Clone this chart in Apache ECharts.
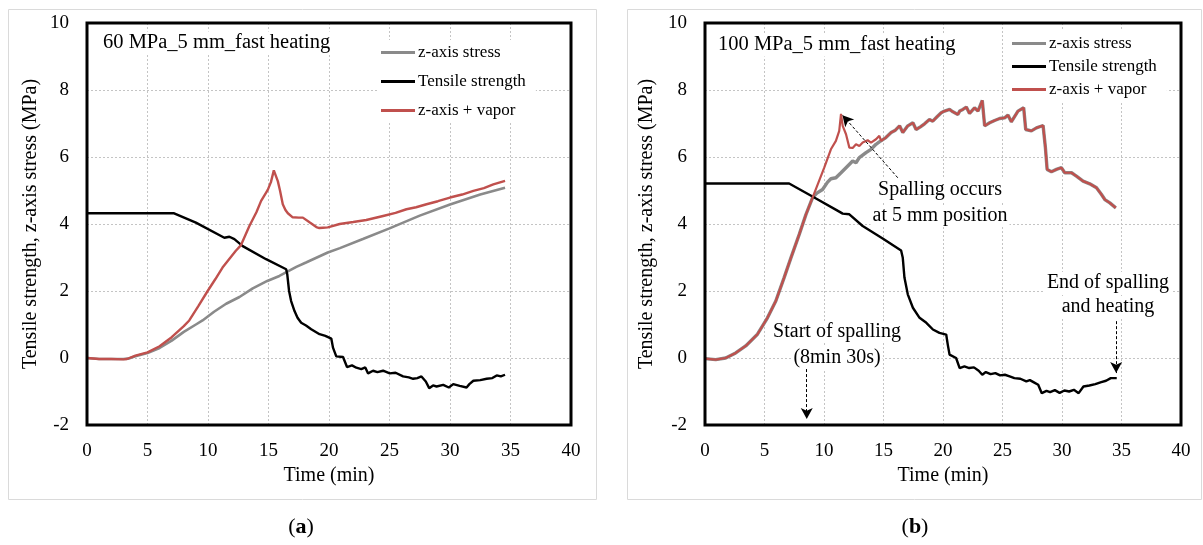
<!DOCTYPE html>
<html>
<head>
<meta charset="utf-8">
<script src="https://cdn.jsdelivr.net/npm/echarts@6/dist/echarts.min.js"></script>
<style>
html,body{margin:0;padding:0;background:#fff;}
#c{width:1203px;height:545px;}
</style>
</head>
<body>
<div id="c"></div>
<script>
// ---------- Data ----------
var seriesNames = ['z-axis stress', 'Tensile strength', 'z-axis + vapor'];
var xTicks = [0, 5, 10, 15, 20, 25, 30, 35, 40];
var yTicks = [-2, 0, 2, 4, 6, 8, 10];

// Panel (a): 60 MPa
var aStressT = [0, 1, 2, 3, 3.4, 4, 5, 6, 7, 8, 9, 9.55, 10.5, 11.5, 12.6, 13.7, 14.9, 15.9, 17.3, 18.1, 19.9, 20.9, 22.8, 25, 27.5, 30, 32.5, 34.55];
var aStressV = [0, -0.03, -0.03, -0.03, -0.02, 0.05, 0.15, 0.3, 0.52, 0.78, 1.0, 1.12, 1.38, 1.62, 1.82, 2.08, 2.3, 2.45, 2.72, 2.85, 3.15, 3.28, 3.55, 3.87, 4.25, 4.58, 4.88, 5.08];

var aTensileT = [0, 7.2, 9.0, 11.35, 11.5, 11.77, 12.18, 12.87, 14.8, 16.46, 16.55, 16.7, 16.87, 17.15, 17.4, 17.7, 18.1, 18.53, 19.22, 19.7, 20.19, 20.33, 20.6, 21.16, 21.49, 21.9, 22.26, 22.67, 23.0, 23.23, 23.64, 24.0, 24.47, 25.02, 25.5, 26.12, 26.6, 26.95, 27.3, 27.64, 28.0, 28.28, 28.6, 28.89, 29.44, 29.9, 30.27, 30.8, 31.37, 31.6, 31.93, 32.5, 33.03, 33.5, 33.86, 34.2, 34.55];
var aTensileV = [4.32, 4.32, 4.04, 3.59, 3.58, 3.62, 3.55, 3.34, 2.95, 2.65, 2.5, 2.0, 1.7, 1.4, 1.2, 1.05, 0.97, 0.86, 0.71, 0.66, 0.58, 0.31, 0.05, 0.03, -0.27, -0.22, -0.29, -0.33, -0.28, -0.46, -0.38, -0.42, -0.38, -0.46, -0.44, -0.55, -0.58, -0.62, -0.6, -0.55, -0.7, -0.9, -0.82, -0.85, -0.8, -0.88, -0.78, -0.83, -0.88, -0.78, -0.68, -0.66, -0.62, -0.6, -0.52, -0.55, -0.5];

var aVaporT = [0, 1, 2, 3, 3.3, 4, 5, 6, 7, 8, 8.45, 9.2, 9.97, 10.6, 11.2, 12.3, 12.73, 13.42, 14.0, 14.39, 14.94, 15.2, 15.44, 15.6, 15.77, 15.95, 16.18, 16.4, 16.6, 17.0, 17.5, 17.84, 18.39, 18.95, 19.2, 19.5, 19.9, 20.88, 22, 23.08, 24.47, 25.5, 26.4, 27.2, 28.06, 29, 30, 31, 31.93, 32.8, 33.58, 34.55];
var aVaporV = [0, -0.03, -0.03, -0.04, -0.03, 0.07, 0.17, 0.35, 0.62, 0.95, 1.12, 1.55, 2.0, 2.35, 2.7, 3.2, 3.37, 3.94, 4.35, 4.69, 5.02, 5.25, 5.6, 5.62, 5.28, 5.0, 4.59, 4.42, 4.32, 4.2, 4.19, 4.19, 4.05, 3.91, 3.88, 3.89, 3.9, 4.0, 4.06, 4.12, 4.24, 4.33, 4.44, 4.5, 4.59, 4.68, 4.79, 4.88, 4.99, 5.07, 5.18, 5.29];

// Panel (b): 100 MPa
var bRiseT = [0, 0.9, 1.74, 2.58, 3.42, 4.41, 5.25, 5.95, 6.65, 7.22, 7.92, 8.48, 9.04];
var bRiseV = [-0.02, -0.05, 0, 0.15, 0.36, 0.71, 1.2, 1.7, 2.4, 2.99, 3.69, 4.28, 4.79];

var bStressMidT = [9.4, 9.88, 10.3, 10.58, 11.0, 11.43, 11.85, 12.41, 12.69, 12.97, 13.53, 13.95, 14.37, 14.65];
var bStressMidV = [4.92, 5.03, 5.25, 5.35, 5.38, 5.53, 5.68, 5.88, 5.83, 5.98, 6.13, 6.23, 6.38, 6.45];

var bVaporMidT = [10.02, 10.58, 11.0, 11.28, 11.43, 11.57, 11.85, 12.13, 12.41, 12.69, 12.97, 13.25, 13.67, 13.95, 14.37, 14.65];
var bVaporMidV = [5.68, 6.23, 6.48, 6.78, 7.29, 6.93, 6.68, 6.28, 6.27, 6.38, 6.33, 6.43, 6.5, 6.43, 6.53, 6.63];

var bTailT = [14.8, 15.2, 15.64, 16.0, 16.35, 16.62, 17.04, 17.47, 17.74, 18.1, 18.45, 18.86, 19.14, 19.5, 19.85, 20.13, 20.55, 20.83, 21.25, 21.4, 21.67, 21.96, 22.23, 22.38, 22.65, 22.94, 23.3, 23.5, 23.92, 24.34, 24.76, 25.18, 25.46, 25.74, 26.3, 26.78, 26.95, 27.43, 27.85, 28.41, 28.6, 28.75, 29.11, 29.53, 29.95, 30.23, 30.8, 31.21, 31.77, 32.33, 32.9, 33.32, 33.6, 34.02, 34.52];
var bTailV = [6.48, 6.58, 6.73, 6.8, 6.93, 6.73, 6.93, 7.02, 6.82, 6.9, 6.99, 7.12, 7.07, 7.2, 7.32, 7.37, 7.42, 7.35, 7.27, 7.37, 7.42, 7.49, 7.3, 7.29, 7.47, 7.37, 7.69, 6.93, 7.02, 7.09, 7.15, 7.17, 7.25, 7.05, 7.37, 7.47, 6.82, 6.78, 6.87, 6.94, 6.3, 5.63, 5.56, 5.63, 5.68, 5.53, 5.53, 5.43, 5.28, 5.2, 5.08, 4.88, 4.73, 4.63, 4.48];

var bTensileT = [0, 7.07, 9.18, 11.28, 11.57, 11.7, 12.13, 13.25, 14.93, 16.48, 16.62, 16.76, 17.04, 17.47, 18.03, 18.6, 19.15, 19.7, 20.27, 20.4, 20.55, 21.1, 21.4, 21.8, 22.2, 22.6, 23.0, 23.3, 23.6, 24.0, 24.4, 24.8, 25.2, 25.6, 26.0, 26.5, 27.0, 27.3, 27.6, 28.0, 28.3, 28.7, 29.0, 29.4, 29.8, 30.2, 30.6, 31.0, 31.4, 31.8, 32.3, 32.8, 33.3, 33.7, 34.1, 34.6];
var bTensileV = [5.21, 5.21, 4.79, 4.37, 4.31, 4.36, 4.29, 3.94, 3.57, 3.21, 2.99, 2.4, 1.9, 1.5, 1.2, 1.05, 0.85, 0.75, 0.7, 0.4, 0.1, 0.0, -0.3, -0.25, -0.3, -0.28, -0.38, -0.5, -0.42, -0.48, -0.45, -0.52, -0.5, -0.55, -0.6, -0.62, -0.7, -0.66, -0.72, -0.8, -1.05, -0.98, -1.02, -0.96, -1.04, -0.97, -1.0, -0.95, -1.05, -0.85, -0.82, -0.78, -0.72, -0.68, -0.6, -0.6];

// Annotation arrows (data coordinates in panel b)
var arrowSpalling = [[16.2, 5.38], [11.55, 7.25]];
var arrowStart = [[8.55, -0.33], [8.55, -1.82]];
var arrowEnd = [[34.55, 1.1], [34.55, -0.45]];

// ---------- Build ----------
function pairs(t, v) { return t.map(function (x, i) { return [x, v[i]]; }); }
var bStressT = bRiseT.concat(bStressMidT, bTailT);
var bStressV = bRiseV.concat(bStressMidV, bTailV);
var bVaporT = bRiseT.concat(bVaporMidT, bTailT);
var bVaporV = bRiseV.concat(bVaporMidV, bTailV);

var FONT = '"Liberation Serif", "Times New Roman", serif';
var GRAY = '#8a8a8a', BLACK = '#000000', RED = '#c0504d';

function xAxisCfg(idx) {
  return {
    gridIndex: idx, type: 'value', min: 0, max: 40, interval: 5,
    axisLine: { show: false }, axisTick: { show: false },
    axisLabel: { fontFamily: FONT, fontSize: 19, color: '#000', margin: 17,
      formatter: function (v) { return xTicks.indexOf(v) >= 0 ? String(v) : ''; } },
    splitLine: { show: true, lineStyle: { color: '#c4c4c4', type: [2, 2], width: 1 } },
    name: 'Time (min)', nameLocation: 'middle', nameGap: 40,
    nameTextStyle: { fontFamily: FONT, fontSize: 20, color: '#000' }
  };
}
function yAxisCfg(idx, gap) {
  return {
    gridIndex: idx, type: 'value', min: -2, max: 10, interval: 2,
    axisLine: { show: false }, axisTick: { show: false },
    axisLabel: { fontFamily: FONT, fontSize: 19, color: '#000', margin: 18,
      formatter: function (v) { return yTicks.indexOf(v) >= 0 ? String(v) : ''; } },
    splitLine: { show: true, lineStyle: { color: '#c4c4c4', type: [2, 2], width: 1 } },
    name: 'Tensile strength, z-axis stress (MPa)', nameLocation: 'middle', nameGap: gap,
    nameTextStyle: { fontFamily: FONT, fontSize: 20, color: '#000' }
  };
}
function lineSeries(name, idx, t, v, color, width, z) {
  return {
    name: name, type: 'line', xAxisIndex: idx, yAxisIndex: idx,
    data: pairs(t, v), showSymbol: false, symbol: 'none', smooth: false,
    lineStyle: { color: color, width: width }, itemStyle: { color: color },
    z: z, silent: true
  };
}
function arrowLine(p) {
  return [{ coord: p[0] }, { coord: p[1] }];
}
function legendCfg(left, top, gap) {
  return {
    orient: 'vertical', left: left, top: top, itemGap: gap,
    itemWidth: 34, itemHeight: 3, icon: 'rect',
    backgroundColor: '#ffffff', padding: [4, 10, 4, 4],
    data: seriesNames,
    textStyle: { fontFamily: FONT, fontSize: 17, color: '#000', lineHeight: 17, padding: [0, 0, 0, -2] },
    selectedMode: false
  };
}
function note(text, x, y, align, size) {
  return {
    type: 'text', z: 50, silent: true,
    style: { text: text, x: x, y: y, align: align, verticalAlign: 'middle',
      font: (size || 20) + 'px ' + FONT, fill: '#000', backgroundColor: '#ffffff', padding: [1, 2] }
  };
}

var tensileB = lineSeries(seriesNames[1], 1, bTensileT, bTensileV, BLACK, 2.4, 3);
tensileB.markLine = {
  silent: true, animation: false, symbol: ['none', 'arrow'], symbolSize: [9, 11],
  label: { show: false },
  lineStyle: { color: '#000', type: [3, 2], width: 1 },
  data: [arrowLine(arrowSpalling), arrowLine(arrowStart), arrowLine(arrowEnd)]
};

var option = {
  animation: false,
  backgroundColor: '#ffffff',
  grid: [
    { left: 87, top: 23, width: 484, height: 402, show: true, borderColor: '#000', borderWidth: 3, backgroundColor: 'transparent', z: 5 },
    { left: 705, top: 23, width: 476, height: 402, show: true, borderColor: '#000', borderWidth: 3, backgroundColor: 'transparent', z: 5 }
  ],
  xAxis: [xAxisCfg(0), xAxisCfg(1)],
  yAxis: [yAxisCfg(0, 46), yAxisCfg(1, 48)],
  legend: [legendCfg(377, 40, 12), legendCfg(1008, 31, 6)],
  series: [
    lineSeries(seriesNames[0], 0, aStressT, aStressV, GRAY, 2.6, 2),
    lineSeries(seriesNames[1], 0, aTensileT, aTensileV, BLACK, 2.4, 3),
    lineSeries(seriesNames[2], 0, aVaporT, aVaporV, RED, 2.4, 4),
    lineSeries(seriesNames[0], 1, bStressT, bStressV, GRAY, 3.4, 2),
    tensileB,
    lineSeries(seriesNames[2], 1, bVaporT, bVaporV, RED, 2.2, 4)
  ],
  graphic: [
    { type: 'rect', silent: true, z: -10, shape: { x: 8.5, y: 9.5, width: 588, height: 490 }, style: { fill: 'none', stroke: '#dadada', lineWidth: 1 } },
    { type: 'rect', silent: true, z: -10, shape: { x: 627.5, y: 9.5, width: 574, height: 490 }, style: { fill: 'none', stroke: '#dadada', lineWidth: 1 } },
    note('60 MPa_5 mm_fast heating', 101, 43, 'left', 20.5),
    note('100 MPa_5 mm_fast heating', 716, 45, 'left', 20.5),
    note('Spalling occurs', 940, 190, 'center'),
    note('at 5 mm position', 940, 216, 'center'),
    note('Start of spalling', 837, 332, 'center'),
    note('(8min 30s)', 837, 358, 'center'),
    note('End of spalling', 1108, 283, 'center'),
    note('and heating', 1108, 307, 'center'),
    { type: 'text', silent: true, style: { text: '({b|a})', x: 301, y: 527, align: 'center', verticalAlign: 'middle', font: '22px ' + FONT, fill: '#000',
      rich: { b: { fontWeight: 'bold', fontSize: 22, fontFamily: FONT } } } },
    { type: 'text', silent: true, style: { text: '({b|b})', x: 915, y: 527, align: 'center', verticalAlign: 'middle', font: '22px ' + FONT, fill: '#000',
      rich: { b: { fontWeight: 'bold', fontSize: 22, fontFamily: FONT } } } }
  ]
};

var chart = echarts.init(document.getElementById('c'), null, { renderer: 'canvas' });
chart.setOption(option);
</script>
</body>
</html>
